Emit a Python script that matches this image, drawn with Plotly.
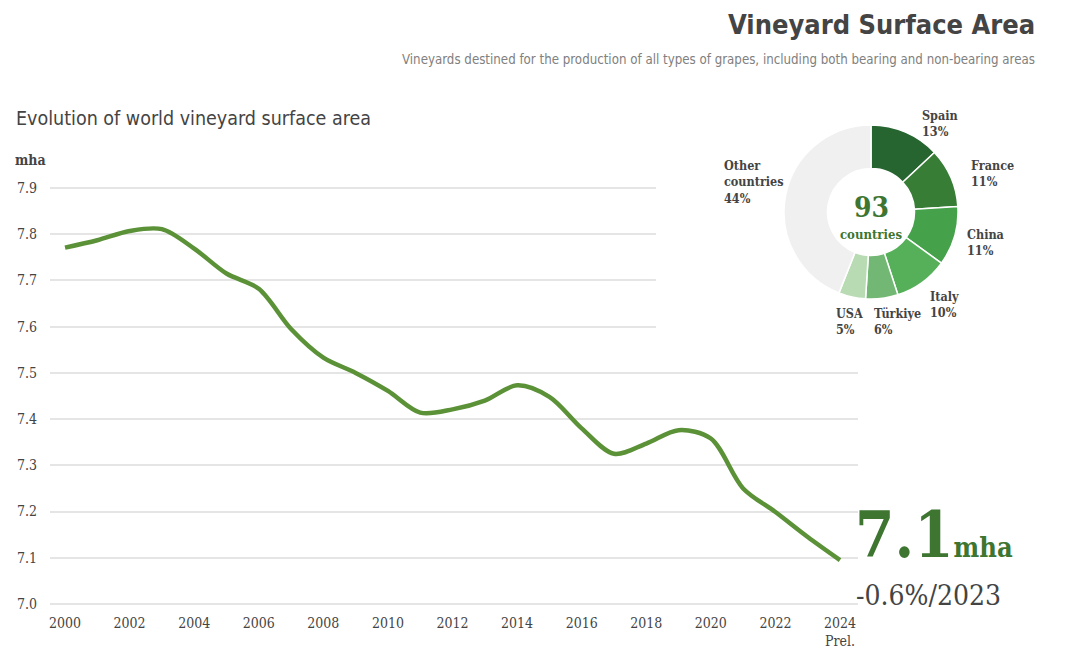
import plotly.graph_objects as go

# ---------------- data ----------------
years = list(range(2000, 2025))
surface_mha = [7.771, 7.787, 7.807, 7.811, 7.769, 7.715, 7.682, 7.595, 7.533, 7.500,
               7.461, 7.414, 7.421, 7.440, 7.473, 7.448, 7.380, 7.325, 7.347, 7.376,
               7.358, 7.250, 7.199, 7.145, 7.095]
tick_years = list(range(2000, 2025, 2))
tick_text = [str(y) for y in tick_years[:-1]] + ["2024<br>Prel."]
y_ticks = [7.0, 7.1, 7.2, 7.3, 7.4, 7.5, 7.6, 7.7, 7.8, 7.9]

countries = ["Spain", "France", "China", "Italy", "Türkiye", "USA", "Other countries"]
shares = [13, 11, 11, 10, 6, 5, 44]
slice_colors = ["#26652f", "#377d36", "#45a14a", "#55b059", "#72b874", "#b8dbb4", "#f0f0f0"]

W, H = 1080, 658
SERIF = "DejaVu Serif Condensed, DejaVu Serif, serif"
COND = "Liberation Sans Narrow, DejaVu Sans Condensed, sans-serif"
GREEN = "#5b9137"
DARKGREEN = "#3e7530"
TXT = "#444444"


def px(x):
    return x / W


def py(y):
    return 1 - y / H


fig = go.Figure()

fig.add_trace(go.Scatter(
    x=years, y=surface_mha, mode="lines",
    line=dict(color=GREEN, width=4.5, shape="spline", smoothing=0.9),
    hoverinfo="x+y", showlegend=False,
))

fig.add_trace(go.Pie(
    labels=countries, values=shares, hole=0.5, sort=False, direction="clockwise",
    rotation=0, marker=dict(colors=slice_colors, line=dict(color="white", width=1.5)),
    textinfo="none", showlegend=False,
    domain=dict(x=[px(784), px(958)], y=[py(299), py(125)]),
))

fig.update_xaxes(
    domain=[px(50), px(858)], range=[1999.535, 2024.557],
    tickvals=tick_years, ticktext=tick_text, showgrid=False, zeroline=False,
    showline=False, ticks="", tickfont=dict(family=SERIF, size=14, color=TXT),
)
fig.update_yaxes(
    domain=[py(613.2), py(178.8)], range=[6.98, 7.92],
    tickvals=y_ticks, tickformat=".1f", showgrid=True, gridcolor="#e5e5e5",
    gridwidth=1.5, zeroline=False, showline=False, ticks="",
    ticklabelstandoff=12,
    tickfont=dict(family=SERIF, size=14, color=TXT),
)

# hide the upper grid lines behind the donut (drawn between gridlines and traces)
fig.add_shape(type="rect", xref="x", yref="y", x0=2018.3, x1=2025.0,
              y0=7.55, y1=7.95, fillcolor="white", line=dict(width=0), layer="between")

ann = []
ann.append(dict(text="<b>Vineyard Surface Area</b>", x=px(1037), y=py(24), xanchor="right",
                yanchor="middle", showarrow=False, font=dict(family=COND, size=27, color=TXT)))
ann.append(dict(text="Vineyards destined for the production of all types of grapes, including both bearing and non-bearing areas",
                x=px(1037), y=py(60), xanchor="right", yanchor="middle", showarrow=False,
                font=dict(family=COND, size=13.2, color="#808080")))
ann.append(dict(text="Evolution of world vineyard surface area", x=px(14), y=py(119),
                xanchor="left", yanchor="middle", showarrow=False,
                font=dict(family=COND, size=19.5, color=TXT)))
ann.append(dict(text="<b>mha</b>", x=px(13), y=py(160), xanchor="left", yanchor="middle",
                showarrow=False, font=dict(family=SERIF, size=14, color=TXT)))

# donut labels
label_pos = {
    "Spain": (920, 124), "France": (969, 174), "China": (965, 243), "Italy": (928, 304),
    "Türkiye": (872, 321), "USA": (834, 321), "Other countries": (722, 182),
}
for c, s in zip(countries, shares):
    lx, ly = label_pos[c]
    name = c.replace(" ", "<br>")
    ann.append(dict(text=f"<b>{name}<br>{s}%</b>", x=px(lx), y=py(ly), xanchor="left",
                    yanchor="middle", align="left", showarrow=False,
                    font=dict(family=SERIF, size=12.5, color=TXT)))

ann.append(dict(text="<b>93</b>", x=px(871), y=py(207), xanchor="center", yanchor="middle",
                showarrow=False, font=dict(family=SERIF, size=28, color=DARKGREEN)))
ann.append(dict(text="<b>countries</b>", x=px(871), y=py(234), xanchor="center", yanchor="middle",
                showarrow=False, font=dict(family=SERIF, size=13, color=DARKGREEN)))

# big number
ann.append(dict(text=f"<b>{surface_mha[-1]:.1f}<span style='font-size:27px'>mha</span></b>",
                x=px(853), y=py(574), xanchor="left", yanchor="bottom", showarrow=False,
                font=dict(family=SERIF, size=63, color=DARKGREEN)))
ann.append(dict(text="-0.6%/2023", x=px(854), y=py(595), xanchor="left", yanchor="middle",
                showarrow=False, font=dict(family=SERIF, size=28, color=TXT)))

for a in ann:
    a["xref"] = "paper"
    a["yref"] = "paper"

fig.update_layout(
    width=W, height=H, margin=dict(l=0, r=0, t=0, b=0),
    paper_bgcolor="white", plot_bgcolor="white",
    annotations=ann, showlegend=False,
)

fig.write_html("out.html")
